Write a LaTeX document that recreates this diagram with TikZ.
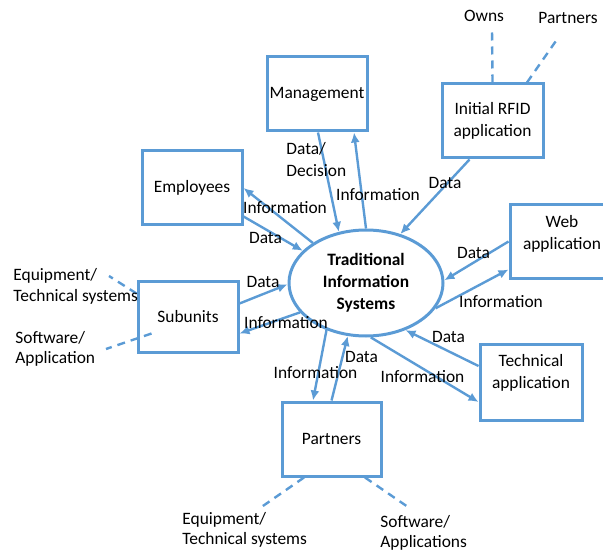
\documentclass[tikz,border=0pt]{standalone}
\usepackage{fontspec}
\setmainfont{Carlito}
\usetikzlibrary{arrows.meta,shapes.geometric,calc}
\definecolor{flowblue}{RGB}{91,155,213}

\begin{document}
\begin{tikzpicture}[x=0.5pt,y=-0.5pt,
    font=\fontsize{8.7}{11}\selectfont,
    box/.style={rectangle,draw=flowblue,line width=1.5pt,minimum width=50pt,
        minimum height=37pt,align=center,inner sep=1pt},
    flow/.style={draw=flowblue,line width=1.2pt,-{Latex[length=5pt,width=4.5pt]}},
    link/.style={draw=flowblue,line width=1.2pt,dash pattern=on 4pt off 3pt},
    lbl/.style={inner sep=0pt,align=left},
    ends/.style={lbl,anchor=west,font=\fontsize{8.7}{10.2}\selectfont}]

  \useasboundingbox (0,0) rectangle (603,555);

  % central system
  \node[ellipse,draw=flowblue,line width=1.5pt,minimum width=77pt,minimum height=53pt,
      inner sep=0pt,align=center,font=\fontsize{8.7}{11}\selectfont\bfseries]
      (tis) at (366,283) {Traditional\\Information\\Systems};

  % entities around it
  \node[box] (mgmt) at (317,94) {Management};
  \node[box,minimum width=50.5pt] (rfid) at (492.5,121) {Initial RFID\\application};
  \node[box] (emp) at (192,188) {Employees};
  \node[box,minimum width=52pt,minimum height=36.5pt,text depth=9pt] (web) at (562,241.5) {Web\\application};
  \node[box,minimum height=35.5pt] (sub) at (188,316.5) {Subunits};
  \node[box,minimum width=51pt,minimum height=38pt,text depth=10.5pt] (tech) at (531,382) {Technical\\application};
  \node[box,minimum width=49.5pt] (part) at (331.5,439) {Partners};

  % flows in and out
  \draw[flow] ($(mgmt.south)+(1,0)$) -- (tis.118);
  \draw[flow] (tis.90) -- ($(mgmt.south)+(37,0)$);
  \draw[flow] ($(rfid.south)+(-23,0)$) -- (tis.55);
  \draw[flow] (tis.143) -- (emp.east);
  \draw[flow] ($(emp.south east)+(0,-10)$) -- (tis.153);
  \draw[flow] ($(sub.east)+(0,-13)$) -- (tis.181);
  \draw[flow] (tis.204) -- ($(sub.east)+(0,17)$);
  \draw[flow] (web.west) -- (tis.2);
  \draw[flow] (tis.340) -- ($(web.south west)+(0,-10)$);
  \draw[flow] ($(tech.west)+(0,-16)$) -- (tis.310);
  \draw[flow] (tis.275) -- ($(tech.west)+(0,20)$);
  \draw[flow] (tis.230) -- ($(part.north)+(-18.5,0)$);
  \draw[flow] (part.north) -- (tis.251);

  \node[lbl] (lDD) [anchor=west] at (286,160) {Data/\\Decision};
  \node[lbl] (lMI) at (378,195) {Information};
  \node[lbl] (lRD) at (445,183) {Data};
  \node[lbl] (lEI) at (285,208) {Information};
  \node[lbl] (lED) at (265.5,238) {Data};
  \node[lbl] (lSD) at (263,282) {Data};
  \node[lbl] (lSI) at (286,323) {Information};
  \node[lbl] (lWD) at (473.5,253) {Data};
  \node[lbl] (lWI) at (501,302) {Information};
  \node[lbl] (lTD) at (448.5,337) {Data};
  \node[lbl] (lTI) at (422.5,377) {Information};
  \node[lbl] (lPI) at (315.5,373) {Information};
  \node[lbl] (lPD) at (361.5,357) {Data};

  % loose ends (dashed)
  \coordinate (ownsEnd) at (492,30);
  \coordinate (rfidPartEnd) at (558,38);
  \coordinate (subEqEnd) at (109,276);
  \coordinate (subSwEnd) at (106,349);
  \coordinate (partEqEnd) at (260,508);
  \coordinate (partSwEnd) at (408,507);
  \draw[link] (rfid.north) -- (ownsEnd);
  \draw[link] ($(rfid.north)+(34.5,0)$) -- (rfidPartEnd);
  \draw[link] ($(sub.north west)+(0,14)$) -- (subEqEnd);
  \draw[link] ($(sub.south west)+(15,-20)$) -- (subSwEnd);
  \draw[link] ($(part.south)+(-27.5,0)$) -- (partEqEnd);
  \draw[link] ($(part.south)+(33.5,0)$) -- (partSwEnd);

  \node[lbl] (owns) at (484,16) {Owns};
  \node[lbl] (rfidPart) at (568,18) {Partners};
  \node[ends] (subEq) at (13,286.5) {Equipment/\\Technical systems};
  \node[ends] (subSw) at (15,349) {Software/\\Application};
  \node[ends] (partEq) at (182,530) {Equipment/\\Technical systems};
  \node[ends] (partSw) at (380,533) {Software/\\Applications};
\end{tikzpicture}
\end{document}
